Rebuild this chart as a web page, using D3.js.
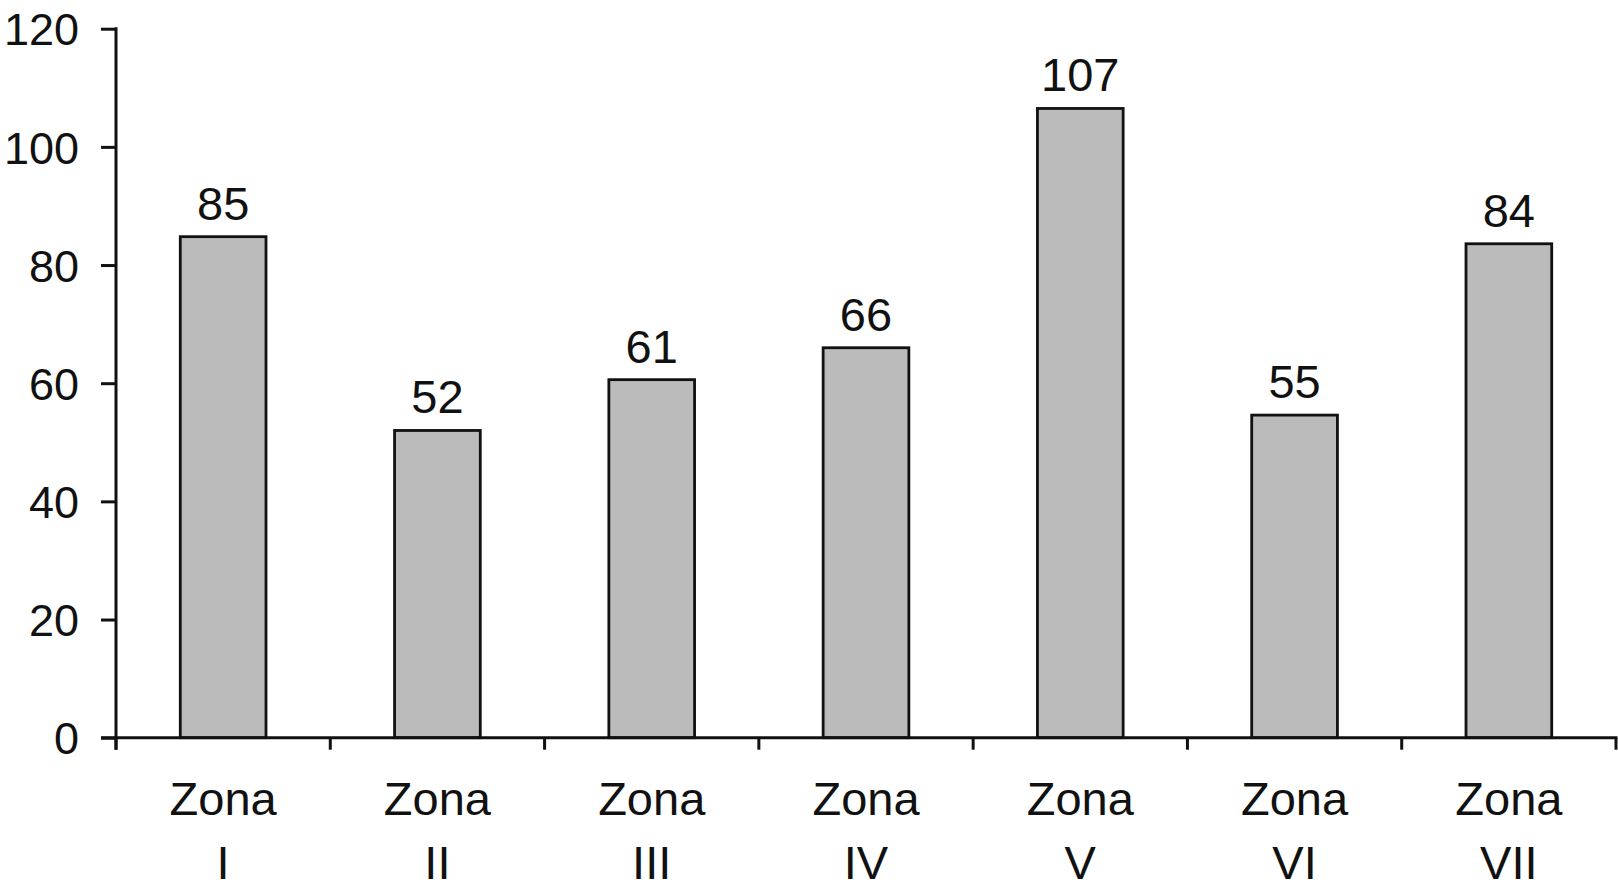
<!DOCTYPE html>
<html>
<head>
<meta charset="utf-8">
<script src="https://cdn.jsdelivr.net/npm/d3@7"></script>
<style>
  html, body { margin: 0; padding: 0; background: #fff; }
  text { font-family: "Liberation Sans", Arial, sans-serif; fill: #111; }
</style>
</head>
<body>
<svg id="chart" width="1618" height="895"></svg>
<script>
const categories = ["Zona I", "Zona II", "Zona III", "Zona IV", "Zona V", "Zona VI", "Zona VII"];
const values = [84.8, 52, 60.6, 66, 106.5, 54.6, 83.6];
const valueLabels = ["85", "52", "61", "66", "107", "55", "84"];
const yTicks = [0, 20, 40, 60, 80, 100, 120];

const svg = d3.select("#chart");
const x0 = 116, x1 = 1616, yTop = 28.7, yBottom = 737.7;

const x = d3.scaleBand().domain(categories).range([x0, x1]).padding(0);
const y = d3.scaleLinear().domain([0, 120]).range([yBottom, yTop]);
const barW = x.bandwidth() * 0.4;

// bars
svg.append("g").selectAll("rect").data(values).join("rect")
  .attr("x", (d, i) => x(categories[i]) + x.bandwidth() / 2 - barW / 2)
  .attr("y", d => y(d))
  .attr("width", barW)
  .attr("height", d => y(0) - y(d))
  .attr("fill", "#bbbbbb")
  .attr("stroke", "#111")
  .attr("stroke-width", 2.8);

// value labels
svg.append("g").selectAll("text").data(values).join("text")
  .attr("x", (d, i) => x(categories[i]) + x.bandwidth() / 2)
  .attr("y", d => y(d) - 17)
  .attr("text-anchor", "middle")
  .attr("font-size", 47)
  .text((d, i) => valueLabels[i]);

// y axis
const yAxis = d3.axisLeft(y).tickValues(yTicks).tickSize(15).tickPadding(22).tickSizeOuter(0);
const gy = svg.append("g").attr("transform", `translate(${x0},0)`).call(yAxis);
gy.select(".domain").remove();
gy.selectAll(".tick line").attr("stroke", "#111").attr("stroke-width", 3);
gy.selectAll(".tick text").attr("font-size", 45).attr("font-family", "Liberation Sans, Arial, sans-serif").attr("fill", "#111").attr("dy", "0.36em");
gy.append("line").attr("x1", 0).attr("x2", 0).attr("y1", y(120) - 1.5).attr("y2", yBottom + 12)
  .attr("stroke", "#111").attr("stroke-width", 3);

// x axis
const gx = svg.append("g");
gx.append("line").attr("x1", x0 - 15).attr("x2", x1 + 1.5).attr("y1", yBottom).attr("y2", yBottom)
  .attr("stroke", "#111").attr("stroke-width", 3);
const bounds = categories.map(c => x(c)).concat([x1]);
gx.selectAll("line.b").data(bounds).join("line").attr("class", "b")
  .attr("x1", d => d).attr("x2", d => d).attr("y1", yBottom).attr("y2", yBottom + 12)
  .attr("stroke", "#111").attr("stroke-width", 3);

const lab = gx.selectAll("text.cat").data(categories).join("text").attr("class", "cat")
  .attr("text-anchor", "middle")
  .attr("font-size", 47)
  .attr("x", d => x(d) + x.bandwidth() / 2);
lab.append("tspan").attr("x", d => x(d) + x.bandwidth() / 2).attr("y", 815).text(d => d.split(" ")[0]);
lab.append("tspan").attr("x", d => x(d) + x.bandwidth() / 2).attr("y", 879).text(d => d.split(" ")[1]);
</script>
</body>
</html>
